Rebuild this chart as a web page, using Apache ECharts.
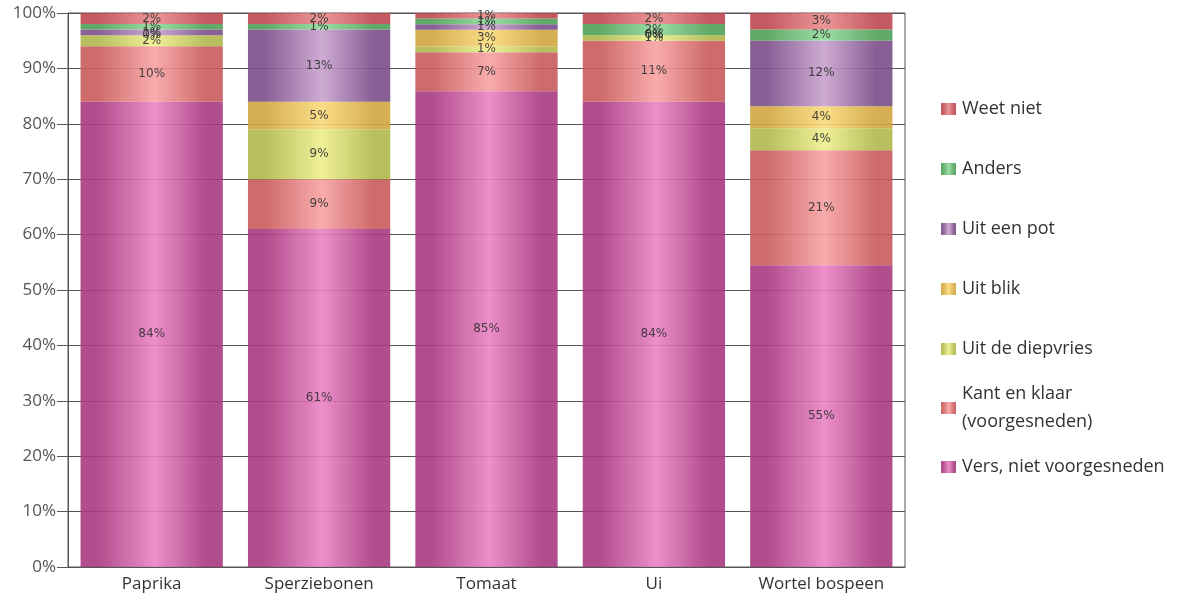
<!DOCTYPE html>
<html>
<head>
<meta charset="utf-8">
<script src="https://cdn.jsdelivr.net/npm/echarts@6/dist/echarts.min.js"></script>
<style>
  html, body { margin: 0; padding: 0; background: #fff; }
  #chart { width: 1187px; height: 601px; }
</style>
</head>
<body>
<div id="chart"></div>
<script>
// categories and values (percent)
const categories = ['Paprika', 'Sperziebonen', 'Tomaat', 'Ui', 'Wortel bospeen'];

const vers      = [84, 61, 85, 84, 55];
const kantKlaar = [10, 9, 7, 11, 21];
const diepvries = [2, 9, 1, 1, 4];
const blik      = [0, 5, 3, 0, 4];
const pot       = [1, 13, 1, 0, 12];
const anders    = [1, 1, 1, 2, 2];
const weetNiet  = [2, 2, 1, 2, 3];

const yTicks = [0, 10, 20, 30, 40, 50, 60, 70, 80, 90, 100];

// series from bottom to top
const seriesDefs = [
  { name: 'Vers, niet voorgesneden', data: vers, edge: '#a83a80', mid: '#ea82c4' },
  { name: 'Kant en klaar\n(voorgesneden)', data: kantKlaar, edge: '#c85a5c', mid: '#f8a2a2' },
  { name: 'Uit de diepvries', data: diepvries, edge: '#b0b84a', mid: '#eeee8c' },
  { name: 'Uit blik', data: blik, edge: '#d2a640', mid: '#f9da7a' },
  { name: 'Uit een pot', data: pot, edge: '#7a4e8a', mid: '#c9a2ce' },
  { name: 'Anders', data: anders, edge: '#50a058', mid: '#92da9a' },
  { name: 'Weet niet', data: weetNiet, edge: '#be4850', mid: '#ea8c8c' }
];

// 100% stacked: scale each column to its total
const totals = categories.map((c, i) =>
  seriesDefs.reduce((s, d) => s + d.data[i], 0));

const gradient = (edge, mid) => new echarts.graphic.LinearGradient(0, 0, 1, 0, [
  { offset: 0, color: edge },
  { offset: 0.12, color: edge },
  { offset: 0.52, color: mid },
  { offset: 0.88, color: edge },
  { offset: 1, color: edge }
]);

const series = seriesDefs.map(d => ({
  name: d.name,
  type: 'bar',
  stack: 'total',
  barCategoryGap: '15%',
  data: d.data.map((v, i) => ({ value: v / totals[i] * 100, raw: v })),
  itemStyle: { color: gradient(d.edge, d.mid), opacity: 0.9 },
  label: {
    show: true,
    position: 'inside',
    color: '#333',
    fontSize: 12,
    fontFamily: 'DejaVu Sans',
    formatter: p => p.data.raw + '%'
  }
}));

const legendText = {
  fontSize: 18,
  color: '#333',
  fontFamily: 'Open Sans',
  lineHeight: 28,
  padding: [0, 0, 0, 1]
};
const legendBase = {
  orient: 'vertical', left: 936,
  itemWidth: 15, itemHeight: 12, icon: 'rect',
  textStyle: legendText
};

const chart = echarts.init(document.getElementById('chart'));
chart.setOption({
  animation: false,
  backgroundColor: '#fff',
  grid: {
    left: 68, right: 282, top: 13, bottom: 34,
    show: true, borderColor: '#555', borderWidth: 1
  },
  legend: [
    Object.assign({}, legendBase, {
      top: 90, itemGap: 32,
      data: ['Weet niet', 'Anders', 'Uit een pot', 'Uit blik', 'Uit de diepvries']
    }),
    Object.assign({}, legendBase, {
      top: 375,
      data: ['Kant en klaar\n(voorgesneden)']
    }),
    Object.assign({}, legendBase, {
      top: 448,
      data: ['Vers, niet voorgesneden']
    })
  ],
  xAxis: {
    type: 'category',
    data: categories,
    axisLine: { lineStyle: { color: '#555' } },
    axisTick: { show: false },
    axisLabel: { color: '#333', fontSize: 17, fontFamily: 'Open Sans', margin: 9, interval: 0 }
  },
  yAxis: {
    type: 'value',
    min: yTicks[0],
    max: yTicks[yTicks.length - 1],
    interval: 10,
    axisLine: { show: true, lineStyle: { color: '#555' } },
    axisTick: { show: true, length: 11, lineStyle: { color: '#555' } },
    splitLine: { lineStyle: { color: '#555' } },
    axisLabel: {
      color: '#555', fontSize: 17, fontFamily: 'Open Sans', margin: 12,
      formatter: v => v + '%'
    }
  },
  series: series
});
</script>
</body>
</html>
